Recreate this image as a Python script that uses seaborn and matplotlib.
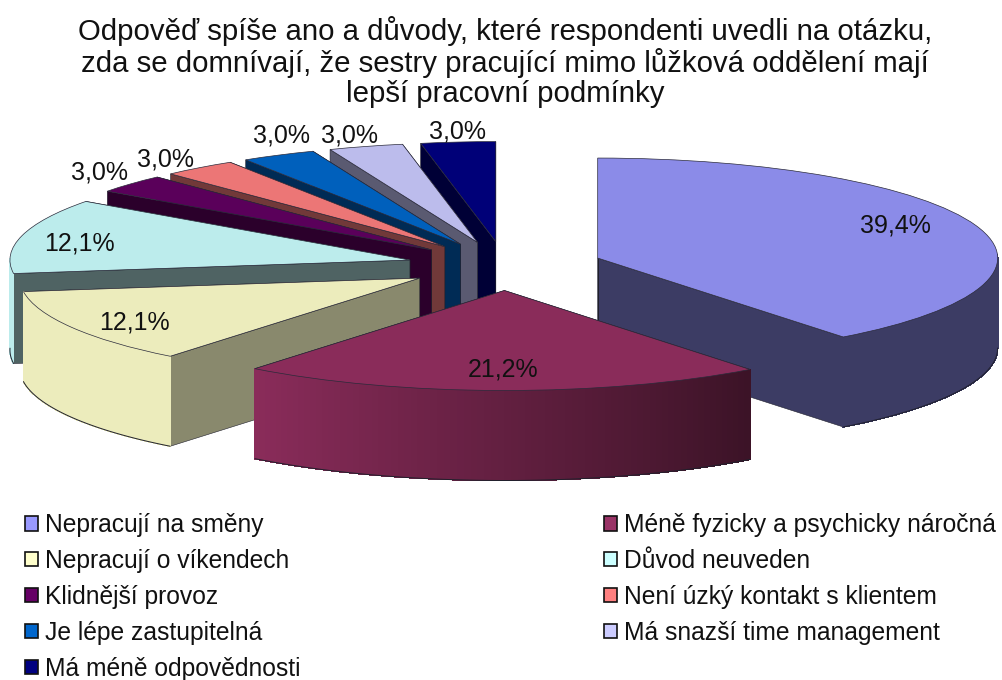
import numpy as np
import matplotlib
matplotlib.use("Agg")
import matplotlib.pyplot as plt
from matplotlib.patches import Patch, Polygon
import seaborn as sns

title = ("Odpověď spíše ano a důvody, které respondenti uvedli na otázku,\n"
         "zda se domnívají, že sestry pracující mimo lůžková oddělení mají\n"
         "lepší pracovní podmínky")
reasons = ["Nepracují na směny", "Méně fyzicky a psychicky náročná",
           "Nepracují o víkendech", "Důvod neuveden",
           "Klidnější provoz", "Není úzký kontakt s klientem",
           "Je lépe zastupitelná", "Má snazší time management",
           "Má méně odpovědnosti"]
shares = [39.4, 21.2, 12.1, 12.1, 3.0, 3.0, 3.0, 3.0, 3.0]
top_colors = ["#8b8be8", "#8a2c5a", "#ececbc", "#bcecec", "#5a005a",
              "#ec7676", "#0060bc", "#bcbcec", "#000078"]
legend_colors = ["#9999ff", "#993366", "#ffffcc", "#ccffff", "#660066",
                 "#ff8080", "#0066cc", "#ccccff", "#000080"]
cut_shade = [0.43, 0.45, 0.58, 0.42, 0.48, 0.48, 0.45, 0.48, 0.45]
label_pixels = [(895, 225), (503, 369), (134, 322), (79, 243), (100, 172),
                (166, 159), (282, 136), (350, 136), (457, 132)]

W, H = 1002, 680
CX, CY, RX, RY = 505, 266, 400, 100
DEPTH = 0.9
EXPLODE = 0.245

sns.set_theme(style="white")
plt.rcParams["font.family"] = ["Liberation Sans", "DejaVu Sans"]


def to_data(px, py):
    return (px - CX) / RX, (CY - py) / RY


def shade(color, k):
    return tuple(c * k for c in matplotlib.colors.to_rgb(color))


def rim_light(clock_angle):
    # light falls from the lower left, so the rim brightens going clockwise
    return np.interp(clock_angle, [0, 142, 218, 360], [0.43, 0.43, 1.0, 1.0])


fig = plt.figure(figsize=(W / 100, H / 100), dpi=100, facecolor="white")
ax = fig.add_axes([0, 0, 1, 1])
wedges, _ = ax.pie(shares, colors=sns.color_palette(top_colors),
                   explode=[EXPLODE] * len(shares), startangle=90,
                   counterclock=False,
                   wedgeprops=dict(edgecolor="#2a2a3a", linewidth=0.5))
ax.set_aspect("auto")
ax.set_xlim(to_data(0, 0)[0], to_data(W, 0)[0])
ax.set_ylim(to_data(0, H)[1], to_data(0, 0)[1])
ax.axis("off")

# stack the slices back to front so nearer ones hide farther ones
order = sorted(range(len(wedges)), key=lambda i: -wedges[i].center[1])
for rank, i in enumerate(order):
    w = wedges[i]
    z = 10 + rank * 3
    w.set_zorder(z + 2)
    cx, cy = w.center
    col = top_colors[i]
    t1, t2 = np.radians(w.theta1), np.radians(w.theta2)
    for t in (t1, t2):
        ex, ey = cx + np.cos(t), cy + np.sin(t)
        quad = [(cx, cy), (ex, ey), (ex, ey - DEPTH), (cx, cy - DEPTH)]
        ax.add_patch(Polygon(quad, closed=True, facecolor=shade(col, cut_shade[i]),
                             edgecolor="#20202c", linewidth=0.4, zorder=z))
    # outer rim as short strips, shaded one by one
    ts = np.linspace(t1, t2, 80)
    for a, b in zip(ts[:-1], ts[1:]):
        if np.sin((a + b) / 2) > 0.02:
            continue
        clock = (90 - np.degrees((a + b) / 2)) % 360
        strip = [(cx + np.cos(a), cy + np.sin(a)), (cx + np.cos(b), cy + np.sin(b)),
                 (cx + np.cos(b), cy + np.sin(b) - DEPTH),
                 (cx + np.cos(a), cy + np.sin(a) - DEPTH)]
        c = shade(col, rim_light(clock))
        ax.add_patch(Polygon(strip, closed=True, facecolor=c, edgecolor=c,
                             linewidth=0.5, antialiased=False, zorder=z + 1))
    ts = ts[np.sin(ts) <= 0.02]
    if len(ts):
        ax.plot(cx + np.cos(ts), cy + np.sin(ts) - DEPTH, color="#20202c",
                lw=0.7, zorder=z + 1)

for value, (px, py) in zip(shares, label_pixels):
    x, y = to_data(px, py)
    ax.text(x, y, f"{value:.1f}%".replace(".", ","), ha="center", va="center",
            fontsize=18, color="#111111", zorder=60)

fig.text(505 / W, 1 - 62 / H, title, ha="center", va="center", fontsize=21.2,
         color="#111111", linespacing=1.08)

# legend reads row by row, so the column-filling order is rearranged
col_order = [0, 2, 4, 6, 8, 1, 3, 5, 7]
handles = [Patch(facecolor=legend_colors[i], edgecolor="#111111", linewidth=1.2)
           for i in col_order]
fig.legend(handles, [reasons[i] for i in col_order], ncol=2, frameon=False,
           loc="upper left", bbox_to_anchor=(25 / W, 1 - 513 / H),
           borderpad=0, borderaxespad=0, fontsize=17.7, labelspacing=0.485,
           handlelength=0.53, handleheight=0.53, handletextpad=0.28,
           columnspacing=12.36, labelcolor="#111111")

fig.savefig("out.png", dpi=100)
